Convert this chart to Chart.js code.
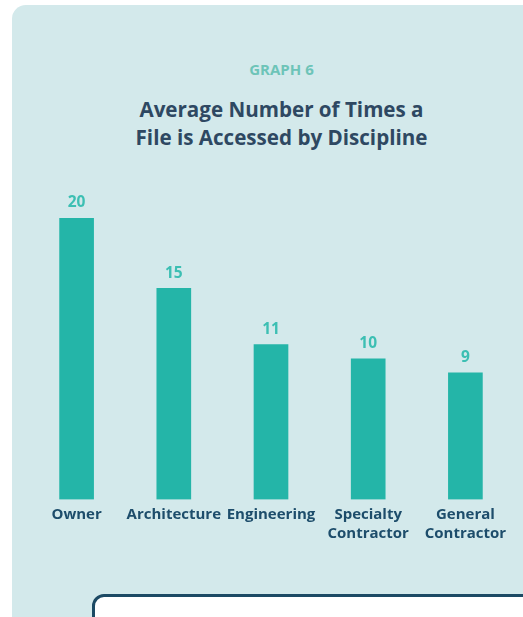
<!DOCTYPE html>
<html>
<head>
<meta charset="utf-8">
<script src="https://cdn.jsdelivr.net/npm/chart.js@4.4.0/dist/chart.umd.min.js"></script>
<style>
  html, body { margin: 0; padding: 0; background: #fff; width: 523px; height: 617px; overflow: hidden; }
  #panel {
    position: absolute; left: 12px; top: 5px; width: 560px; height: 680px;
    background: #d3e9eb; border-radius: 14px;
  }
  .kicker {
    position: absolute; left: 0; width: 563px; top: 59px; text-align: center;
    font: bold 15px "Open Sans", sans-serif; color: #6dc4b8;
  }
  .title {
    position: absolute; left: 0; width: 563px; top: 95px; text-align: center;
    font: bold 20.6px/28px "Open Sans", sans-serif; color: #2e4862;
  }
  #wrap { position: absolute; left: 0; top: 0; width: 523px; height: 617px; }
  #note {
    position: absolute; left: 92px; top: 594px; width: 500px; height: 80px;
    background: #fff; border: 3px solid #1c4a64; border-radius: 12px;
  }
</style>
</head>
<body>
<div id="panel"></div>
<div class="kicker">GRAPH 6</div>
<div class="title">Average Number of Times a<br>File is Accessed by Discipline</div>
<div id="wrap"><canvas id="chart"></canvas></div>
<div id="note"></div>
<script>
// ── Data ──────────────────────────────────────────────────────────────────────
const CATEGORIES = ['Owner', 'Architecture', 'Engineering', ['Specialty', 'Contractor'], ['General', 'Contractor']];
const VALUES     = [20, 15, 11, 10, 9];

const BAR_COLOR   = '#24b5a8';
const VALUE_COLOR = '#3cbfb3';
const TICK_COLOR  = '#1d4d6b';

// value labels above each bar
const valueLabels = {
  id: 'valueLabels',
  afterDatasetsDraw(chart) {
    const { ctx } = chart;
    const meta = chart.getDatasetMeta(0);
    ctx.save();
    ctx.font = 'bold 15.5px "Open Sans", sans-serif';
    ctx.fillStyle = VALUE_COLOR;
    ctx.textAlign = 'center';
    ctx.textBaseline = 'middle';
    meta.data.forEach((bar, i) => {
      ctx.fillText(String(VALUES[i]), bar.x, bar.y - 15);
    });
    ctx.restore();
  },
};

new Chart(document.getElementById('chart'), {
  type: 'bar',
  data: {
    labels: CATEGORIES,
    datasets: [{
      data: VALUES,
      backgroundColor: BAR_COLOR,
      barThickness: 34,
      borderWidth: 0,
    }],
  },
  options: {
    responsive: true, maintainAspectRatio: false, animation: false,
    layout: { padding: { left: 28, right: 9, top: 218, bottom: 76 } },
    plugins: { legend: { display: false }, tooltip: { enabled: false } },
    scales: {
      x: {
        grid: { display: false }, border: { display: false },
        ticks: {
          color: TICK_COLOR, padding: -2, maxRotation: 0, autoSkip: false,
          font: { family: 'Open Sans', size: 15, weight: 'bold', lineHeight: 1.25 },
        },
      },
      y: { display: false, min: 0, max: 20 },
    },
  },
  plugins: [valueLabels],
});
</script>
</body>
</html>
